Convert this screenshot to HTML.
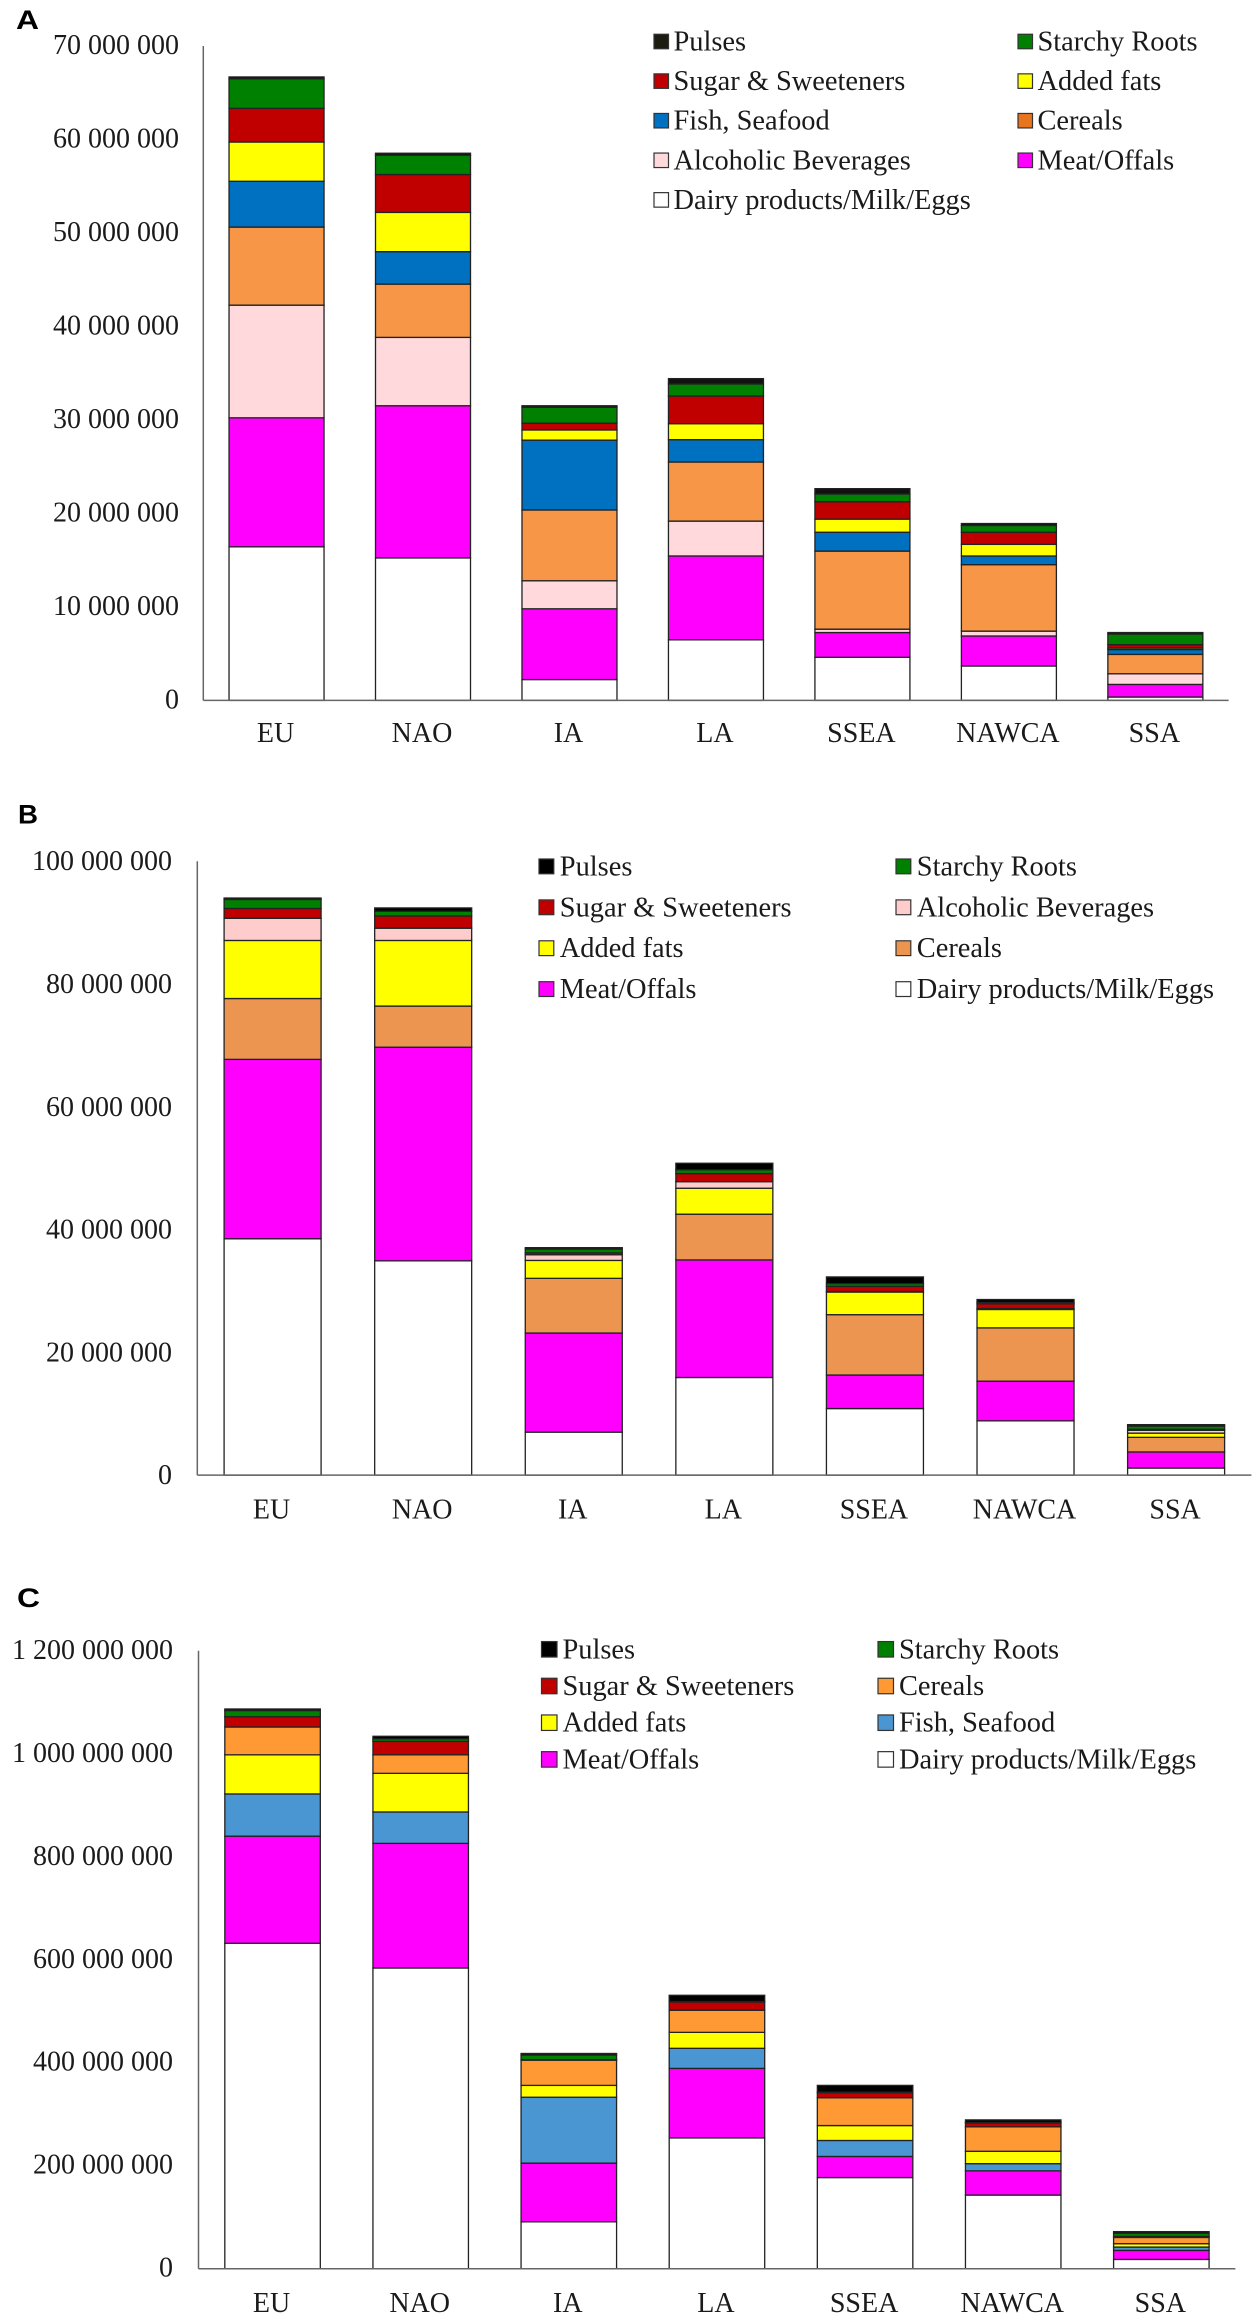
<!DOCTYPE html>
<html lang="en">
<head>
<meta charset="utf-8">
<title>Stacked bars by food group and region</title>
<style>
html,body{margin:0;padding:0;background:#fff;}
body{width:1259px;height:2324px;overflow:hidden;}
svg{display:block;}
.t{font-family:"Liberation Serif",serif;fill:#1a1a1a;}
.p{font-family:"Liberation Sans",sans-serif;font-weight:700;fill:#000;}
</style>
</head>
<body>
<svg id="figure" xmlns="http://www.w3.org/2000/svg" width="1259" height="2324" viewBox="0 0 1259 2324"></svg>
<script>
const categories = ['EU','NAO','IA','LA','SSEA','NAWCA','SSA'];

/* Panel A, millions */
const aTicks = [0,10,20,30,40,50,60,70];
const aDairy = [16.43,15.24,2.23,6.48,4.61,3.68,0.36];
const aMeat = [13.8,16.28,7.57,8.97,2.65,3.21,1.35];
const aAlcohol = [12.05,7.31,3.0,3.73,0.36,0.52,1.14];
const aCereals = [8.35,5.7,7.57,6.32,8.35,7.11,2.07];
const aFish = [4.9,3.47,7.47,2.39,2.02,0.93,0.52];
const aFats = [4.2,4.2,1.09,1.71,1.4,1.24,0.16];
const aSugar = [3.6,4.05,0.72,2.96,1.86,1.3,0.36];
const aStarchy = [3.16,2.07,1.71,1.29,0.83,0.72,1.14];
const aPulses = [0.2,0.21,0.16,0.57,0.57,0.21,0.16];

/* Panel B, millions */
const bTicks = [0,20,40,60,80,100];
const bDairy = [38.5,34.9,7.0,15.9,10.84,8.84,1.15];
const bMeat = [29.22,34.8,16.14,19.15,5.46,6.46,2.62];
const bCereals = [9.91,6.7,8.91,7.45,9.83,8.68,2.38];
const bFats = [9.46,10.69,2.92,4.23,3.69,3.0,0.69];
const bAlcohol = [3.61,2.0,0.93,1.07,0.08,0.15,0.46];
const bSugar = [1.6,1.99,0.3,1.32,0.85,0.77,0.16];
const bStarchy = [1.47,0.77,0.62,0.61,0.45,0.23,0.53];
const bPulses = [0.23,0.54,0.23,1.07,1.08,0.47,0.23];

/* Panel C, millions */
const cTicks = [0,200,400,600,800,1000,1200];
const cDairy = [632,584,91,254,177,143,18];
const cMeat = [208,242,114,135,41,47,17.5];
const cFish = [82,61,128,39,31,14,6.5];
const cFats = [76,75,23,31,29,24,6.6];
const cCereals = [54,36,49,43,54,47.5,12.1];
const cSugar = [20,26,1,16,10,7.5,1.9];
const cStarchy = [12,5,9,1,1,1,6.4];
const cPulses = [3,5,3,12,13,5,3];

const SVGNS = 'http://www.w3.org/2000/svg';
const figure = document.getElementById('figure');

function node(tag, attrs, parent) {
  const el = document.createElementNS(SVGNS, tag);
  for (const k in attrs) el.setAttribute(k, attrs[k]);
  parent.appendChild(el);
  return el;
}

function formatTick(m) {
  const s = String(Math.round(m * 1000000));
  return s.replace(/\B(?=(\d{3})+(?!\d))/g, ' ');
}

function slug(s) {
  return s.toLowerCase().replace(/[^a-z0-9]+/g, '-').replace(/-$/, '');
}

function drawPanel(p) {
  const g = node('g', {}, figure);
  
  

  const yScale = v => p.base - v / p.max * (p.base - p.top);
  const step = (p.right - p.left) / categories.length;
  const xCenter = i => p.left + (i + 0.5) * step;

  const letter = node('text', {x: p.letterX, y: p.letterY, class: 'p', 'font-size': 27, textLength: p.letterW, lengthAdjust: 'spacingAndGlyphs'}, g);
  letter.textContent = p.letter;
  
  

  p.ticks.forEach(t => {
    const lab = node('text', {x: p.labelRight, y: yScale(t) + p.tickDy, class: 't', 'font-size': p.fontSize, 'text-anchor': 'end'}, g);
    lab.textContent = t === 0 ? '0' : formatTick(t);
    
    
  });

  categories.forEach((c, i) => {
    let cum = 0;
    p.series.forEach((vals, s) => {
      const y0 = yScale(cum);
      cum += vals[i];
      const y1 = yScale(cum);
      const r = node('rect', {x: xCenter(i) - p.barW / 2, y: y1, width: p.barW, height: Math.max(y0 - y1, 0), fill: p.colors[s], stroke: '#222', 'stroke-width': 1.3}, g);
      
      
    });
    const lab = node('text', {x: xCenter(i) - 1, y: p.catY, class: 't', 'font-size': p.fontSize, 'text-anchor': 'middle'}, g);
    lab.textContent = c;
    
    
  });

  const yAxis = node('line', {x1: p.left, x2: p.left, y1: p.top, y2: p.base, stroke: '#666', 'stroke-width': 1.5}, g);
  
  
  const xAxis = node('line', {x1: p.left, x2: p.right, y1: p.base, y2: p.base, stroke: '#666', 'stroke-width': 1.5}, g);
  
  

  p.legend.forEach((name, k) => {
    const col = k % 2;
    const row = Math.floor(k / 2);
    const sy = p.legY + row * p.legStep;
    const idx = p.names.indexOf(name);
    const sw = node('rect', {x: col ? p.legX2 : p.legX1, y: sy - p.swatch / 2, width: p.swatch, height: p.swatch, fill: p.swatchColors ? p.swatchColors[idx] : p.colors[idx], stroke: '#333', 'stroke-width': 1.2}, g);
    
    
    const tx = node('text', {x: (col ? p.legX2 : p.legX1) + p.swatch + p.legGap, y: sy + 9, class: 't', 'font-size': p.legFont}, g);
    tx.textContent = name;
    
    
  });
}

drawPanel({
  letter: 'A', letterX: 16, letterY: 29, letterW: 23,
  top: 46, base: 700.4, max: 70, left: 203.3, right: 1228.6, barW: 95,
  labelRight: 179, tickDy: 8, fontSize: 28, catY: 742,
  ticks: aTicks,
  series: [aDairy, aMeat, aAlcohol, aCereals, aFish, aFats, aSugar, aStarchy, aPulses],
  names: ['Dairy products/Milk/Eggs','Meat/Offals','Alcoholic Beverages','Cereals','Fish, Seafood','Added fats','Sugar & Sweeteners','Starchy Roots','Pulses'],
  colors: ['#ffffff','#ff00ff','#ffd9dc','#f79646','#0070c0','#ffff00','#c00000','#008000','#111111'],
  swatchColors: ['#ffffff','#ff00ff','#ffd9dc','#e8741e','#0070c0','#ffff00','#c00000','#008000','#1c1c10'],
  legend: ['Pulses','Starchy Roots','Sugar & Sweeteners','Added fats','Fish, Seafood','Cereals','Alcoholic Beverages','Meat/Offals','Dairy products/Milk/Eggs'],
  legX1: 654, legX2: 1018, legY: 41.5, legStep: 39.6, swatch: 14.5, legGap: 5, legFont: 28.4
});

drawPanel({
  letter: 'B', letterX: 18, letterY: 823.5, letterW: 20,
  top: 861.2, base: 1475.1, max: 100, left: 197.3, right: 1251.4, barW: 97,
  labelRight: 172, tickDy: 9, fontSize: 28, catY: 1518.5,
  ticks: bTicks,
  series: [bDairy, bMeat, bCereals, bFats, bAlcohol, bSugar, bStarchy, bPulses],
  names: ['Dairy products/Milk/Eggs','Meat/Offals','Cereals','Added fats','Alcoholic Beverages','Sugar & Sweeteners','Starchy Roots','Pulses'],
  colors: ['#ffffff','#ff00ff','#eb9550','#ffff00','#ffcccc','#c00000','#008000','#000000'],
  legend: ['Pulses','Starchy Roots','Sugar & Sweeteners','Alcoholic Beverages','Added fats','Cereals','Meat/Offals','Dairy products/Milk/Eggs'],
  legX1: 539, legX2: 896, legY: 866.4, legStep: 40.9, swatch: 14.8, legGap: 6, legFont: 28.4
});

drawPanel({
  letter: 'C', letterX: 17, letterY: 1607, letterW: 23,
  top: 1650.8, base: 2268.7, max: 1200, left: 198.5, right: 1235.4, barW: 95.5,
  labelRight: 173, tickDy: 8, fontSize: 28, catY: 2312,
  ticks: cTicks,
  series: [cDairy, cMeat, cFish, cFats, cCereals, cSugar, cStarchy, cPulses],
  names: ['Dairy products/Milk/Eggs','Meat/Offals','Fish, Seafood','Added fats','Cereals','Sugar & Sweeteners','Starchy Roots','Pulses'],
  colors: ['#ffffff','#ff00ff','#4a96d2','#ffff00','#ff9933','#c00000','#008000','#000000'],
  legend: ['Pulses','Starchy Roots','Sugar & Sweeteners','Cereals','Added fats','Fish, Seafood','Meat/Offals','Dairy products/Milk/Eggs'],
  legX1: 541.5, legX2: 878, legY: 1649.3, legStep: 36.7, swatch: 15.5, legGap: 5.5, legFont: 28.4
});
</script>
</body>
</html>
